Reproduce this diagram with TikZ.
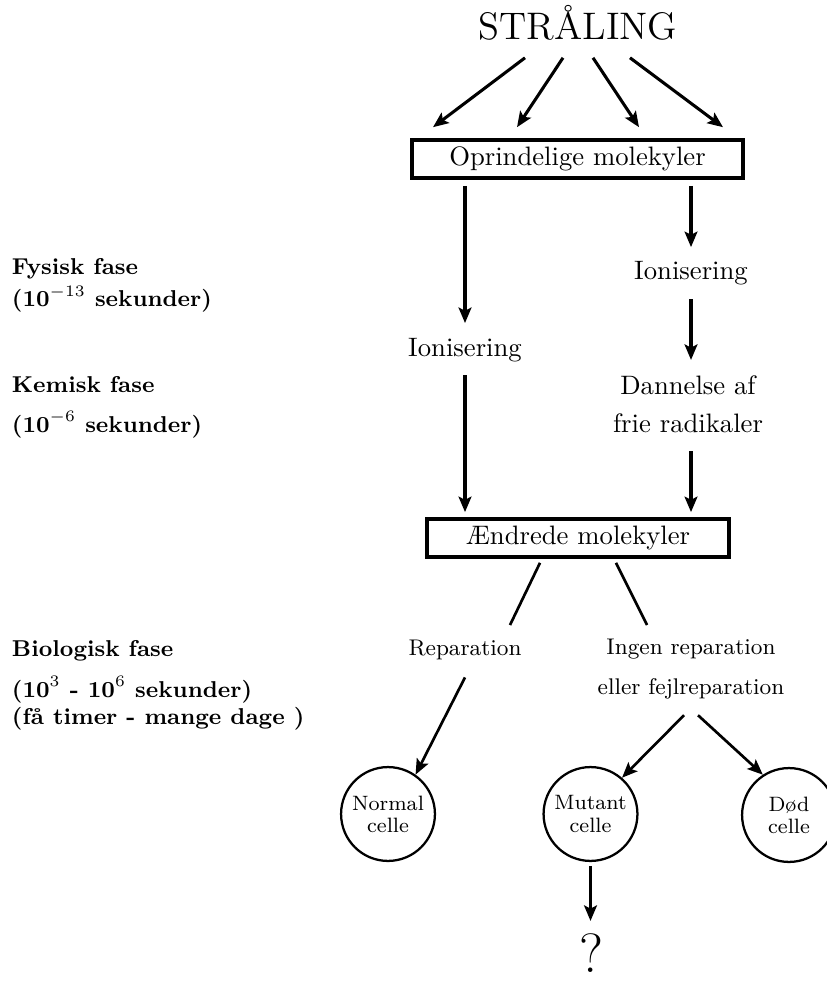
\documentclass[tikz,border=0pt]{standalone}
\usetikzlibrary{arrows.meta,calc}
\begin{document}
\begin{tikzpicture}[x=0.375pt,y=-0.375pt,
  txt/.style={inner sep=0pt,outer sep=0pt,font=\fontsize{10}{14.25}\selectfont},
  smalltxt/.style={inner sep=0pt,outer sep=0pt,align=center,font=\fontsize{8.5}{15}\selectfont},
  phase/.style={inner sep=0pt,outer sep=0pt,anchor=base west,font=\fontsize{8.6}{10}\selectfont\bfseries},
  molbox/.style={draw,line width=1.4pt,inner sep=0pt,minimum height=14.2pt,font=\fontsize{10}{12}\selectfont},
  cell/.style={draw,circle,line width=0.85pt,minimum size=35.2pt,inner sep=0pt,align=center,font=\fontsize{7.8}{8.3}\selectfont},
  tip/.style={-{Stealth[length=5.8pt,width=4.8pt,inset=1.2pt]}},
  varr/.style={tip,line width=1.4pt},
  darr/.style={tip,line width=1.15pt},
  thinarr/.style={tip,line width=1pt},
  link/.style={line width=1pt}]
\useasboundingbox (0,0) rectangle (826,982);

% main nodes
\node[txt,anchor=base,font=\Large] (S) at (578,40) {STRÅLING};
\node[molbox,minimum width=124.1pt] (box1) at (577.5,159) {Oprindelige molekyler};
\node[txt,anchor=base] (ionR) at (691,280) {Ionisering};
\node[txt,anchor=base] (ionL) at (465,357) {Ionisering};
\node[txt,anchor=north,align=center] (dann) at (688,376.2) {Dannelse af\\frie radikaler};
\node[molbox,minimum width=113.3pt] (box2) at (578,538) {Ændrede molekyler};
\node[smalltxt,anchor=base] (rep) at (465,655) {Reparation};
\node[smalltxt,anchor=north] (ingen) at (691,639.5) {Ingen reparation\\eller fejlreparation};
\node[cell] (normal) at (388,814) {Normal\\celle};
\node[cell] (mutant) at (590.5,814) {Mutant\\celle};
\node[cell] (dod) at (789,815) {Død\\celle};
\node[txt,anchor=base,font=\huge] (q) at (591,972) {?};

% phase labels
\node[phase] (fys1) at (12,275) {Fysisk fase};
\node[phase] (fys2) at (12,307) {(10$^{-13}$ sekunder)};
\node[phase] (kem1) at (12,393) {Kemisk fase};
\node[phase] (kem2) at (12,432) {(10$^{-6}$ sekunder)};
\node[phase] (bio1) at (12,656) {Biologisk fase};
\node[phase] (bio2) at (12,697) {(10$^{3}$ - 10$^{6}$ sekunder)};
\node[phase] (bio3) at (12,724) {(få timer - mange dage )};

% radiation arrows
\draw[darr] ([shift={(-53,17)}]S.south) -- ([shift={(-144.5,-11)}]box1.north);
\draw[darr] ([shift={(-15,17)}]S.south) -- ([shift={(-60.5,-11)}]box1.north);
\draw[darr] ([shift={(15,17)}]S.south) -- ([shift={(61.5,-11)}]box1.north);
\draw[darr] ([shift={(52,17)}]S.south) -- ([shift={(145.5,-11)}]box1.north);

% vertical arrows
\draw[varr,shorten <=2.3pt,shorten >=5.9pt] (box1.south -| ionL) -- (ionL);
\draw[varr,shorten <=2.3pt,shorten >=5.5pt] (box1.south -| ionR) -- (ionR);
\draw[varr,shorten <=5.2pt,shorten >=6.1pt] (ionR.south) -- (ionR.south |- dann.north);
\draw[varr,shorten <=4.8pt,shorten >=1.9pt] (ionL.south) -- (ionL.south |- box2.north);
\draw[varr,shorten <=6.75pt,shorten >=1.9pt] (dann.south -| ionR) -- (ionR |- box2.north);
\draw[varr,shorten <=1.4pt,shorten >=4.6pt] (mutant.south) -- (mutant.south |- q.north);

% links from changed molecules
\draw[link] ([shift={(-38,4)}]box2.south) -- ([shift={(45,-14.5)}]rep.north);
\draw[link] ([shift={(38,4)}]box2.south) -- ([shift={(-44,-14.5)}]ingen.north);

% arrows to cells
\draw[thinarr] ([shift={(0,18)}]rep.south) -- (normal.55);
\draw[thinarr] ([shift={(-7,15.6)}]ingen.south) -- (mutant.49);
\draw[thinarr] ([shift={(7,15.6)}]ingen.south) -- (dod.123);
\end{tikzpicture}
\end{document}
